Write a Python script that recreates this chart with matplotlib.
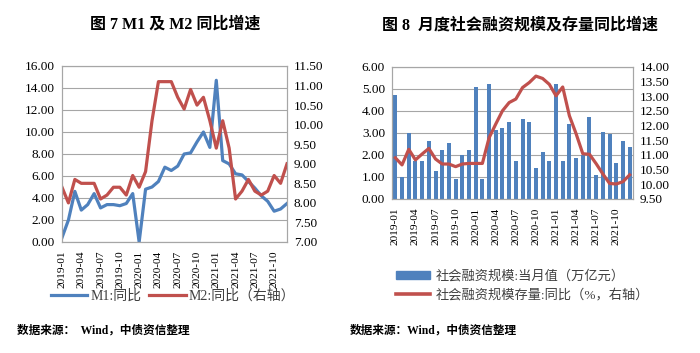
import matplotlib
matplotlib.use("Agg")
import matplotlib.pyplot as plt
from matplotlib.patches import Patch
from matplotlib.lines import Line2D

plt.rcParams['font.family'] = ['Liberation Serif', 'Noto Sans CJK SC']
plt.rcParams['axes.unicode_minus'] = False

# ---------- DATA ----------
months = [f"{y}-{m:02d}" for y in (2019, 2020, 2021) for m in range(1, 13)]
tick_labels = months[::3]

m1_yoy = [0.4, 2.0, 4.6, 2.9, 3.4, 4.4, 3.1, 3.4, 3.4, 3.3, 3.5, 4.4,
          0.0, 4.8, 5.0, 5.5, 6.8, 6.5, 6.9, 8.0, 8.1, 9.1, 10.0, 8.6,
          14.7, 7.4, 7.1, 6.2, 6.1, 5.5, 4.9, 4.2, 3.7, 2.8, 3.0, 3.5]
m2_yoy = [8.4, 8.0, 8.6, 8.5, 8.5, 8.5, 8.1, 8.2, 8.4, 8.4, 8.2, 8.7,
          8.4, 8.8, 10.1, 11.1, 11.1, 11.1, 10.7, 10.4, 10.9, 10.5, 10.7, 10.1,
          9.4, 10.1, 9.4, 8.1, 8.3, 8.6, 8.3, 8.2, 8.3, 8.7, 8.5, 9.0]

tsf_month = [4.70, 1.01, 2.98, 1.72, 1.72, 2.64, 1.28, 2.22, 2.52, 0.89, 1.99, 2.22,
             5.09, 0.89, 5.21, 3.13, 3.20, 3.50, 1.72, 3.61, 3.50, 1.42, 2.14, 1.74,
             5.21, 1.74, 3.38, 1.87, 2.00, 3.70, 1.09, 3.02, 2.93, 1.62, 2.63, 2.37]
tsf_stock_yoy = [10.9, 10.66, 11.19, 10.83, 11.03, 11.22, 10.86, 10.69, 10.69, 10.60, 10.69, 10.71,
                 10.71, 10.71, 11.58, 12.05, 12.5, 12.78, 12.9, 13.29, 13.46, 13.68, 13.6, 13.4,
                 13.01, 13.31, 12.33, 11.72, 11.04, 11.02, 10.7, 10.35, 10.03, 10.01, 10.09, 10.32]

# ---------- STYLE ----------
BLUE = '#4F81BD'
RED = '#C0504D'
GRID = '#A6A6A6'
W, H = 700, 353
TICK_FS = 9.5

def box(x0, y0, x1, y1):
    return [x0 / W, 1 - y1 / H, (x1 - x0) / W, (y1 - y0) / H]

def style_axes(ax, ax2):
    for a in (ax, ax2):
        for s in a.spines.values():
            s.set_color(GRID)
            s.set_linewidth(0.8)
        a.tick_params(length=0, labelsize=TICK_FS, pad=5)
    ax.tick_params(axis='x', labelsize=8.2, pad=6)
    ax.grid(axis='y', color=GRID, linewidth=0.8)
    ax.set_axisbelow(True)

fig = plt.figure(figsize=(7, 3.53), dpi=100)

# ---------- LEFT: M1 / M2 ----------
x = list(range(len(months)))
ax = fig.add_axes(box(62, 66, 287, 242))
ax2 = ax.twinx()
ax.plot(x, m1_yoy, color=BLUE, lw=2.3, solid_joinstyle='round')
ax2.plot(x, m2_yoy, color=RED, lw=2.3, solid_joinstyle='round')
ax.set_xlim(0, 35)
ax.set_ylim(0, 16)
ax.set_yticks(range(0, 17, 2))
ax.set_yticklabels([f"{v:.2f}" for v in range(0, 17, 2)])
ax2.set_ylim(7, 11.5)
r_ticks = [7 + 0.5 * i for i in range(10)]
ax2.set_yticks(r_ticks)
ax2.set_yticklabels([f"{v:.2f}" for v in r_ticks])
ax.set_xticks(x[::3])
ax.set_xticklabels(tick_labels, rotation=90)
style_axes(ax, ax2)

fig.legend(handles=[Line2D([], [], color=BLUE, lw=2.3),
                    Line2D([], [], color=RED, lw=2.3)],
           labels=['M1:同比', 'M2:同比（右轴）'],
           loc='center', bbox_to_anchor=(173 / W, 1 - 296 / H), ncol=2,
           frameon=False, fontsize=10, handlelength=2.6, handletextpad=0.2,
           columnspacing=0.6, labelcolor='#404040')

fig.text(175 / W, 1 - 25 / H, '图 7 M1 及 M2 同比增速', ha='center', va='center',
         fontsize=11.5, fontweight='bold')
fig.text(17 / W, 1 - 331 / H, '数据来源：  Wind，中债资信整理', ha='left', va='center',
         fontsize=8.4, fontweight='bold')

# ---------- RIGHT: social financing ----------
bx = fig.add_axes(box(392, 66.7, 633, 199))
bx2 = bx.twinx()
bx.bar(x, tsf_month, width=0.6, color=BLUE)
bx2.plot(x, tsf_stock_yoy, color=RED, lw=2.3, solid_joinstyle='round')
bx.set_xlim(-0.5, 35.5)
bx.set_ylim(0, 6)
bx.set_yticks(range(0, 7))
bx.set_yticklabels([f"{v:.2f}" for v in range(0, 7)])
bx2.set_ylim(9.5, 14)
r2_ticks = [9.5 + 0.5 * i for i in range(10)]
bx2.set_yticks(r2_ticks)
bx2.set_yticklabels([f"{v:.2f}" for v in r2_ticks])
bx.set_xticks(x[::3])
bx.set_xticklabels(tick_labels, rotation=90)
style_axes(bx, bx2)

fig.legend(handles=[Patch(color=BLUE), Line2D([], [], color=RED, lw=2.6)],
           labels=['社会融资规模:当月值（万亿元）', '社会融资规模存量:同比（%，右轴）'],
           loc='upper left', bbox_to_anchor=(384 / W, 1 - 258 / H), ncol=1,
           frameon=False, fontsize=9.5, handlelength=2.6, handleheight=0.5,
           handletextpad=0.4, labelspacing=0.45, labelcolor='#404040')

fig.text(520 / W, 1 - 25 / H, '图 8  月度社会融资规模及存量同比增速', ha='center', va='center',
         fontsize=11.5, fontweight='bold')
fig.text(350 / W, 1 - 331 / H, '数据来源：Wind，中债资信整理', ha='left', va='center',
         fontsize=8.4, fontweight='bold')

fig.savefig('out.png', dpi=100)
